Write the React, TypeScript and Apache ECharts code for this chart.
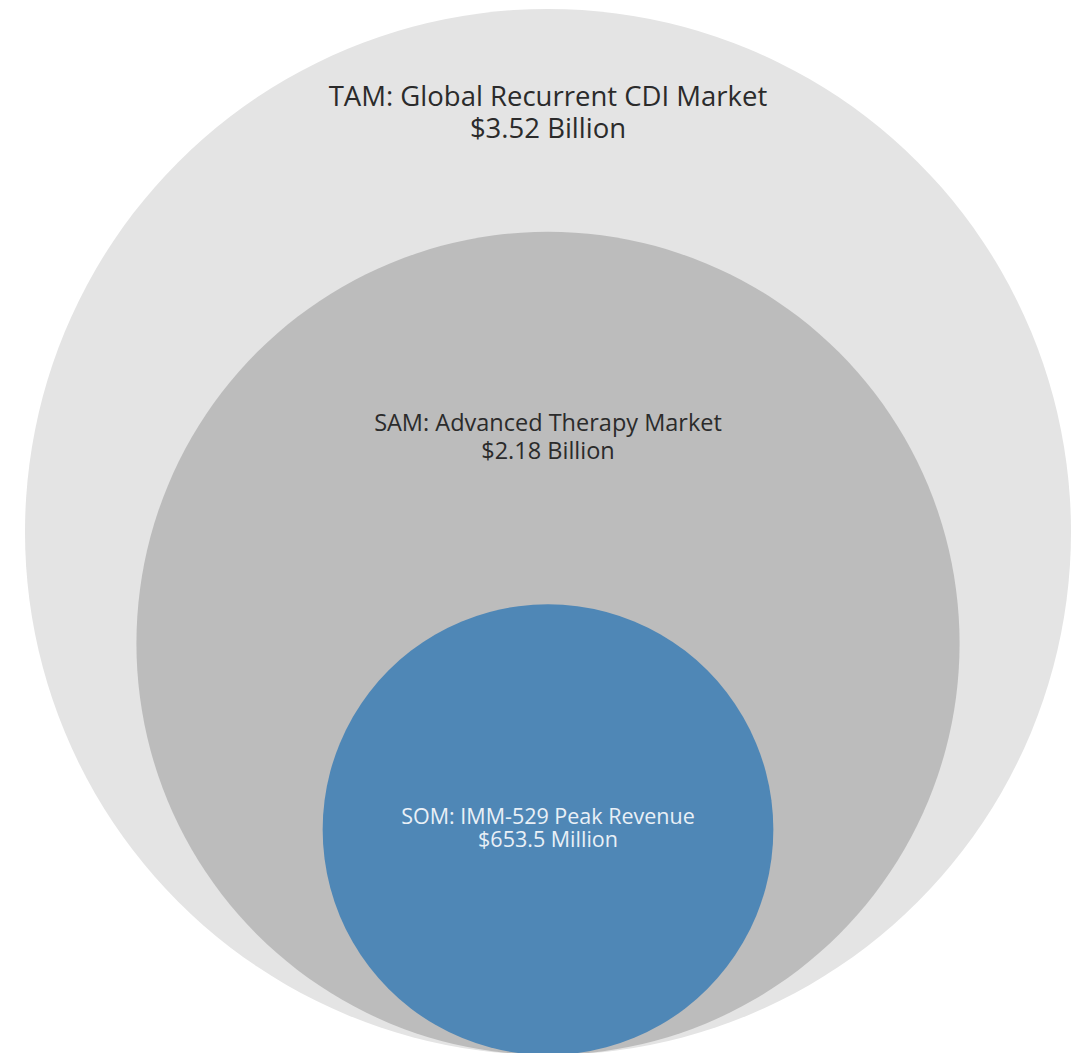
import React, { useEffect, useRef } from "react";
import * as echarts from "echarts";

// Market data (USD billions)
const categories = ["TAM", "SAM", "SOM"];
const titles = [
  "TAM: Global Recurrent CDI Market",
  "SAM: Advanced Therapy Market",
  "SOM: IMM-529 Peak Revenue",
];
const values = [3.52, 2.18, 0.6535];
const valueLabels = ["$3.52 Billion", "$2.18 Billion", "$653.5 Million"];

// Styling / layout config
const W = 1084;
const H = 1053;
const MAX_R = 523; // radius of the largest circle in axis units (px)
const BASE_Y = -2; // shared bottom tangent
const fills = ["#e4e4e4", "#bcbcbc", "#4f87b6"];
const textColors = ["#2b2b2b", "#2b2b2b", "#e9f0f7"];
const fontSizes = [27.5, 23.5, 21.5];
const lineHeights = [32, 28, 23];
const labelTopOffsets = [86, 190, 211]; // first-line centre below circle top

export default function App() {
  const ref = useRef<HTMLDivElement>(null);
  useEffect(() => {
    document.body.style.margin = "0";
    if (!ref.current) return;
    const chart = echarts.init(ref.current, null, { renderer: "svg" });
    const vmax = Math.max(...values);
    chart.setOption({
      animation: false,
      backgroundColor: "#ffffff",
      grid: { left: 0, right: 0, top: 0, bottom: 0 },
      xAxis: { type: "value", min: -548, max: W - 548, show: false },
      yAxis: { type: "value", min: 0, max: H, show: false },
      series: [
        {
          type: "custom",
          name: "Market size",
          coordinateSystem: "cartesian2d",
          data: values.map((v, i) => ({ name: categories[i], value: [i, v] })),
          renderItem: (params: any, api: any) => {
            const i = api.value(0);
            const v = api.value(1);
            const r = MAX_R * Math.sqrt(v / vmax);
            const c = api.coord([0, BASE_Y + r]);
            const s = api.size([r, r]);
            const top = c[1] - s[1];
            return {
              type: "group",
              children: [
                {
                  type: "circle",
                  shape: { cx: c[0], cy: c[1], r: s[0] },
                  style: { fill: fills[i] },
                },
                {
                  type: "text",
                  style: {
                    text: titles[i] + "\n" + valueLabels[i],
                    x: c[0],
                    y: top + labelTopOffsets[i] - lineHeights[i] / 2,
                    align: "center",
                    verticalAlign: "top",
                    fontSize: fontSizes[i],
                    fontFamily: "'Open Sans', Roboto, sans-serif",
                    lineHeight: lineHeights[i],
                    fill: textColors[i],
                  },
                },
              ],
            };
          },
        },
      ],
    });
    return () => chart.dispose();
  }, []);
  return <div ref={ref} style={{ width: W, height: H }} />;
}
